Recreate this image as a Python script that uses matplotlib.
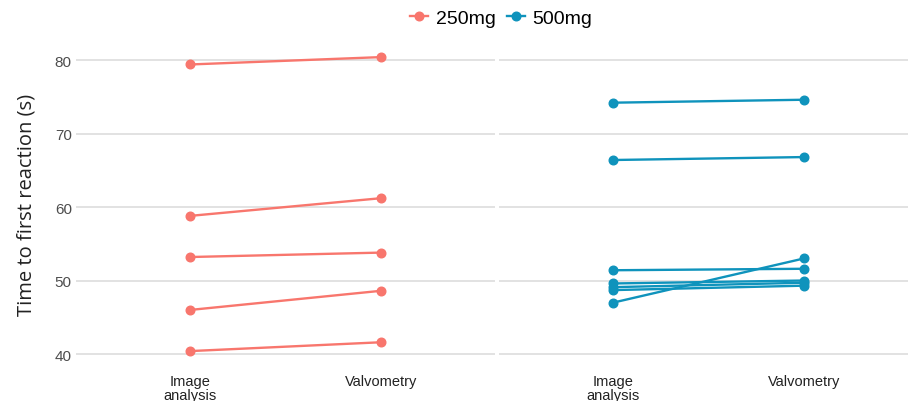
import numpy as np
import matplotlib.pyplot as plt
from matplotlib.lines import Line2D

methods = ['Image\nanalysis', 'Valvometry']

# time to first reaction (s), one row per animal: [image analysis, valvometry]
dose_250 = [
    [79.4, 80.4],
    [58.8, 61.2],
    [53.2, 53.8],
    [46.0, 48.6],
    [40.4, 41.6],
]
dose_500 = [
    [74.2, 74.6],
    [66.4, 66.8],
    [51.4, 51.6],
    [49.6, 50.0],
    [49.1, 49.7],
    [48.7, 49.3],
    [47.0, 53.0],
]

col_250 = '#F8766D'
col_500 = '#0F93BC'

plt.rcParams['font.family'] = ['Liberation Sans', 'DejaVu Sans']

fig = plt.figure(figsize=(9.08, 4.02), dpi=100)
ax1 = fig.add_axes([0.0837, 0.0876, 0.4615, 0.8044])
ax2 = fig.add_axes([0.5496, 0.0876, 0.4615, 0.8044])

x = np.arange(1, len(methods) + 1)
for ax, data, col in [(ax1, dose_250, col_250), (ax2, dose_500, col_500)]:
    for row in data:
        ax.plot(x, row, color=col, lw=1.7, marker='o', ms=6.2, solid_capstyle='butt')
    ax.set_xlim(0.4, 2.6)
    ax.set_ylim(38.4, 82.4)
    ax.set_yticks([40, 50, 60, 70, 80])
    ax.set_xticks(x)
    ax.set_xticklabels(methods, fontsize=10.5, color='#222222', linespacing=0.95)
    ax.grid(axis='y', color='#DDDDDD', lw=1.2)
    ax.set_axisbelow(True)
    for s in ax.spines.values():
        s.set_visible(False)
    ax.tick_params(axis='x', length=0, pad=6)
    ax.tick_params(axis='y', length=0, pad=3, labelsize=11, labelcolor='#4D4D4D')

ax2.tick_params(axis='y', labelleft=False)
ax1.set_ylabel('Time to first reaction (s)', fontsize=14.5, family=['Open Sans', 'DejaVu Sans'],
               color='#222222', labelpad=13)

handles = [Line2D([], [], color=col_250, lw=1.7, marker='o', ms=6.2),
           Line2D([], [], color=col_500, lw=1.7, marker='o', ms=6.2)]
fig.legend(handles, ['250mg', '500mg'], loc='center', bbox_to_anchor=(0.552, 0.952), ncol=2,
           frameon=False, fontsize=14, handlelength=0.9, handletextpad=0.4, columnspacing=0.6)

fig.savefig('out.png', dpi=100)
